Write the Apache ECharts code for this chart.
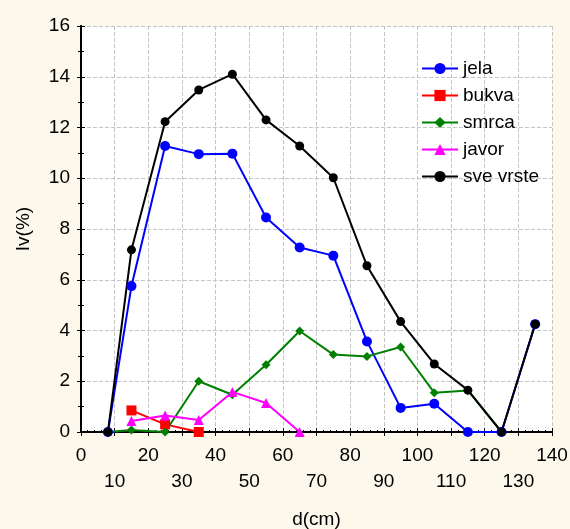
<!DOCTYPE html>
<html>
<head>
<meta charset="utf-8">
<script src="https://cdn.jsdelivr.net/npm/echarts@6/dist/echarts.min.js"></script>
<style>
  html, body { margin: 0; padding: 0; background: #fdf8ec; }
  #main { width: 570px; height: 529px; }
</style>
</head>
<body>
<div id="main"></div>
<script>
// debljinski razredi (cm)
var d = [8, 15, 25, 35, 45, 55, 65, 75, 85, 95, 105, 115, 125, 135];

// Iv(%) po vrstama
var jela     = [0, 5.75, 11.27, 10.95, 10.97, 8.45, 7.27, 6.95, 3.57, 0.95, 1.11, 0, 0, 4.25];
var bukva    = [null, 0.85, 0.30, 0, null, null, null, null, null, null, null, null, null, null];
var smrca    = [0, 0.08, 0, 2.0, 1.47, 2.65, 3.98, 3.05, 2.98, 3.35, 1.55, 1.64, 0, null];
var javor    = [null, 0.43, 0.65, 0.47, 1.58, 1.14, 0, null, null, null, null, null, null, null];
var sveVrste = [0, 7.18, 12.23, 13.48, 14.1, 12.3, 11.27, 10.02, 6.55, 4.35, 2.68, 1.65, 0, 4.25];

function pairs(arr) {
    return d.map(function (x, i) { return [x, arr[i]]; });
}

var myChart = echarts.init(document.getElementById('main'));

var font = 'Liberation Sans, Arial, sans-serif';

function serie(name, arr, color, symbol, size) {
    return {
        name: name,
        type: 'line',
        data: pairs(arr),
        connectNulls: false,
        symbol: symbol,
        symbolSize: size,
        showAllSymbol: true,
        color: color,
        lineStyle: { width: 2, color: color },
        itemStyle: { color: color },
        animation: false
    };
}

option = {
    backgroundColor: '#fdf8ec',
    textStyle: { fontFamily: font },
    grid: {
        left: 81,
        right: 18,
        top: 26,
        bottom: 97,
        outerBoundsMode: 'none',
        containLabel: false,
        show: true,
        backgroundColor: '#ffffff',
        borderWidth: 0
    },
    legend: {
        orient: 'vertical',
        left: 416,
        top: 54,
        itemWidth: 36,
        itemHeight: 14,
        itemGap: 8,
        textStyle: { fontSize: 19, color: '#000', fontFamily: font },
        data: ['jela', 'bukva', 'smrca', 'javor', 'sve vrste']
    },
    xAxis: [
        {
            type: 'value',
            min: 0,
            max: 140,
            interval: 10,
            name: 'd(cm)',
            nameLocation: 'middle',
            nameGap: 78,
            nameTextStyle: { fontSize: 19, color: '#000' },
            axisLine: { lineStyle: { color: '#000', width: 2 } },
            axisTick: { inside: true, length: 4, lineStyle: { color: '#000' } },
            minorTick: { show: true, splitNumber: 5, length: 2, lineStyle: { color: '#000' } },
            axisLabel: {
                margin: 11,
                fontSize: 19,
                color: '#000',
                lineHeight: 26,
                formatter: function (v) {
                    return v % 20 === 0 ? String(v) : '\n' + v;
                }
            },
            splitLine: { show: true, lineStyle: { color: '#c4c4c4', type: 'dashed', width: 1 } }
        },
        {
            type: 'value',
            position: 'top',
            min: 0,
            max: 140,
            interval: 10,
            axisLine: { show: true, lineStyle: { color: '#000', width: 2 } },
            axisTick: { show: true, inside: true, length: 4, lineStyle: { color: '#000' } },
            axisLabel: { show: false },
            splitLine: { show: false }
        }
    ],
    yAxis: [
        {
            type: 'value',
            min: 0,
            max: 16,
            interval: 2,
            name: 'Iv(%)',
            nameLocation: 'middle',
            nameGap: 48,
            nameTextStyle: { fontSize: 19, color: '#000' },
            axisLine: { show: true, lineStyle: { color: '#000', width: 2 } },
            axisTick: { show: true, inside: true, length: 4, lineStyle: { color: '#000' } },
            minorTick: { show: true, splitNumber: 2, length: 3, lineStyle: { color: '#000' } },
            axisLabel: { margin: 11, fontSize: 19, color: '#000' },
            splitLine: { show: true, lineStyle: { color: '#c4c4c4', type: 'dashed', width: 1 } }
        },
        {
            type: 'value',
            position: 'right',
            min: 0,
            max: 16,
            interval: 2,
            axisLine: { show: true, lineStyle: { color: '#000', width: 2 } },
            axisTick: { show: true, inside: true, length: 4, lineStyle: { color: '#000' } },
            minorTick: { show: true, splitNumber: 2, length: 3, lineStyle: { color: '#000' } },
            axisLabel: { show: false },
            splitLine: { show: false }
        }
    ],
    series: [
        serie('jela', jela, '#0000ff', 'circle', 10),
        serie('bukva', bukva, '#ff0000', 'rect', 10),
        serie('smrca', smrca, '#008000', 'diamond', 9),
        serie('javor', javor, '#ff00ff', 'triangle', 10),
        serie('sve vrste', sveVrste, '#000000', 'circle', 9)
    ]
};

myChart.setOption(option);
</script>
</body>
</html>
